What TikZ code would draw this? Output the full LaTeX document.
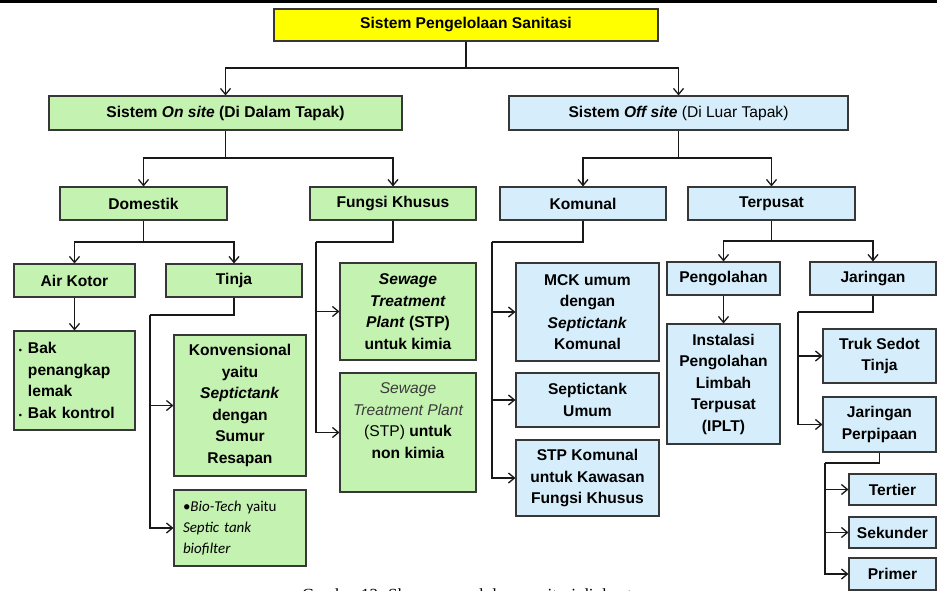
\documentclass[tikz,border=0pt]{standalone}
\usepackage{fontspec}
\setmainfont{Liberation Sans}
\newfontfamily\capfont{Liberation Serif}
\newfontfamily\calfont{Carlito}
\usetikzlibrary{arrows.meta,shadows}
\definecolor{gfill}{RGB}{196,242,176}
\definecolor{bfill}{RGB}{214,238,251}
\definecolor{yfill}{RGB}{255,255,0}
\definecolor{edgec}{RGB}{55,55,55}
\definecolor{lightt}{RGB}{60,60,60}
\begin{document}
\begin{tikzpicture}[x=1pt,y=-1pt,
  box/.style={draw=edgec, line width=1.1pt, inner sep=0pt, align=center,
    font=\fontsize{15.6}{21.5}\selectfont\bfseries,
    drop shadow={shadow xshift=1.3pt,shadow yshift=-1.3pt,fill=black!30,opacity=0.5}},
  gbox/.style={box, fill=gfill},
  bbox/.style={box, fill=bfill},
  ybox/.style={box, fill=yfill},
  ln/.style={line width=1.4pt, draw=black!90},
  arr/.style={ln, -{Straight Barb[length=6pt,width=10pt,line width=1.3pt]}},
]
\useasboundingbox (0,0) rectangle (937,591);
\fill[black] (0,0) rectangle (937,2.6);

% level 0
\node[ybox, minimum width=384pt, minimum height=32pt] (top) at (466,25) {Sistem Pengelolaan Sanitasi};
% level 1
\node[gbox, minimum width=353pt, minimum height=34pt] (onsite) at (225.5,113) {Sistem \textit{On site} (Di Dalam Tapak)};
\node[bbox, minimum width=339pt, minimum height=34pt] (offsite) at (678.5,113) {Sistem \textit{Off site} {\mdseries(Di Luar Tapak)}};
% level 2
\node[gbox, minimum width=167pt, minimum height=33pt] (dom) at (143.5,203.5) {Domestik};
\node[gbox, minimum width=166pt, minimum height=33pt] (fk) at (393,203.5) {Fungsi Khusus};
\node[bbox, minimum width=166pt, minimum height=33pt] (kom) at (583,203.5) {Komunal};
\node[bbox, minimum width=167pt, minimum height=33pt] (ter) at (771.5,203.5) {Terpusat};
% level 3 left
\node[gbox, minimum width=121pt, minimum height=33pt] (air) at (74.5,280.5) {Air Kotor};
\node[gbox, minimum width=136pt, minimum height=33pt] (tinja) at (234,280.5) {Tinja};
\node[gbox, minimum height=99pt, text width=111pt, inner xsep=5pt, align=left] (bak) at (74.5,380.5)
  {\makebox[9pt][l]{\fontsize{9}{9}\selectfont\textbullet}Bak\\\hspace*{9pt}penangkap\\\hspace*{9pt}lemak\\\makebox[9pt][l]{\fontsize{9}{9}\selectfont\textbullet}Bak kontrol};
\node[gbox, minimum width=132pt, minimum height=141pt] (konv) at (240,405.5)
  {Konvensional\\yaitu\\\textit{Septictank}\\dengan\\Sumur\\Resapan};
\node[gbox, minimum height=76pt, text width=114pt, inner xsep=9pt, align=left,
  font=\calfont\fontsize{15}{21}\selectfont] (bio) at (240,528)
  {\textbullet\textit{Bio-Tech} yaitu\\\textit{Septic tank}\\\textit{biofilter}};
\node[gbox, minimum width=136pt, minimum height=97pt] (stpk) at (408,311.5)
  {\textit{Sewage}\\\textit{Treatment}\\\textit{Plant} (STP)\\untuk kimia};
\node[gbox, minimum width=136pt, minimum height=119pt] (stpn) at (408,432.5)
  {\begin{tabular}{@{}c@{}}{\mdseries\itshape\color{lightt}Sewage}\\{\mdseries\itshape\color{lightt}Treatment Plant}\\{\mdseries(STP)} untuk\\non kimia\\[22pt]\end{tabular}};
% level 3 right
\node[bbox, minimum width=143pt, minimum height=98pt] (mck) at (587.5,312)
  {MCK umum\\dengan\\\textit{Septictank}\\Komunal};
\node[bbox, minimum width=143pt, minimum height=54pt] (stu) at (587.5,400)
  {Septictank\\Umum};
\node[bbox, minimum width=143pt, minimum height=76pt] (stpkom) at (587.5,478)
  {STP Komunal\\untuk Kawasan\\Fungsi Khusus};
\node[bbox, minimum width=113pt, minimum height=33pt] (peng) at (723.5,278.5) {Pengolahan};
\node[bbox, minimum width=126pt, minimum height=33pt] (jar) at (873,278.5) {Jaringan};
\node[bbox, minimum width=113pt, minimum height=120pt] (ipl) at (723.5,384)
  {Instalasi\\Pengolahan\\Limbah\\Terpusat\\(IPLT)};
\node[bbox, minimum width=113pt, minimum height=54pt] (truk) at (879.5,356) {Truk Sedot\\Tinja};
\node[bbox, minimum width=113pt, minimum height=55pt] (pipa) at (879.5,424.5) {Jaringan\\Perpipaan};
\node[bbox, minimum width=87pt, minimum height=31pt] (ter3) at (892.5,489.5) {Tertier};
\node[bbox, minimum width=87pt, minimum height=31pt] (sek) at (892.5,532.5) {Sekunder};
\node[bbox, minimum width=87pt, minimum height=32pt] (pri) at (892.5,574) {Primer};

% caption (cut off at the bottom edge, as in the source)
\node[anchor=base west, inner sep=0pt, font=\capfont\fontsize{17}{20}\selectfont] (cap) at (302,600)
  {Gambar 13. Skema pengelolaan sanitasi di darat};

% connectors
\coordinate (j0) at (466,68);
\draw[ln] (top.south) -- (j0);
\draw[arr] (j0) -| (onsite.north);
\draw[arr] (j0) -| (offsite.north);

\coordinate (j1) at (225.5,158);
\draw[ln] (onsite.south) -- (j1);
\draw[arr] (j1) -| (dom.north);
\draw[arr] (j1) -| (fk.north);

\coordinate (j2) at (678.5,158);
\draw[ln] (offsite.south) -- (j2);
\draw[arr] (j2) -| (kom.north);
\draw[arr] (j2) -| (ter.north);

\coordinate (j3) at (143.5,242);
\draw[ln] (dom.south) -- (j3);
\draw[arr] (j3) -| (air.north);
\draw[arr] (j3) -| (tinja.north);

\draw[arr] (air.south) -- (bak.north);

\coordinate (tb) at (150,315);
\draw[ln] (tinja.south) |- (tb);
\draw[arr] (tb) |- (bio.west);
\draw[arr] (tb |- konv.west) -- (konv.west);

\coordinate (fb) at (316,242);
\draw[ln] (fk.south) |- (fb);
\draw[arr] (fb) |- (stpn.west);
\draw[arr] (fb |- stpk.west) -- (stpk.west);

\coordinate (kb) at (492,242);
\draw[ln] (kom.south) |- (kb);
\draw[arr] (kb) |- (stpkom.west);
\draw[arr] (kb |- mck.west) -- (mck.west);
\draw[arr] (kb |- stu.west) -- (stu.west);

\coordinate (j4) at (771.5,241);
\draw[ln] (ter.south) -- (j4);
\draw[arr] (j4) -| (peng.north);
\draw[arr] (j4) -| (jar.north);

\draw[arr] (peng.south) -- (ipl.north);

\coordinate (jb) at (798,312);
\draw[ln] (jar.south) |- (jb);
\draw[arr] (jb) |- (pipa.west);
\draw[arr] (jb |- truk.west) -- (truk.west);

\coordinate (pb) at (825,463);
\draw[ln] (pipa.south) |- (pb);
\draw[arr] (pb) |- (pri.west);
\draw[arr] (pb |- ter3.west) -- (ter3.west);
\draw[arr] (pb |- sek.west) -- (sek.west);
\end{tikzpicture}
\end{document}
